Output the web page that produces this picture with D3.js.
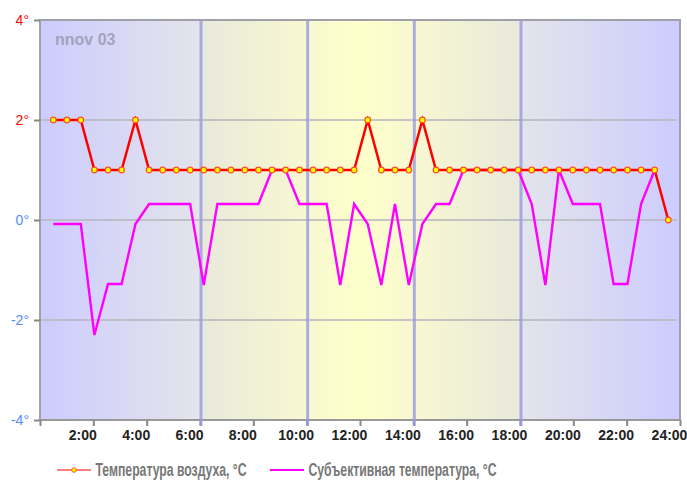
<!DOCTYPE html>
<html><head><meta charset="utf-8">
<script src="https://cdn.jsdelivr.net/npm/d3@7"></script>
<style>html,body{margin:0;padding:0;background:#fff;}svg{display:block;}</style>
</head><body>
<svg id="c" width="687" height="487"></svg>
<script>
// ---- data ----
const times = [0.5,1.01,1.53,2.04,2.55,3.06,3.58,4.09,4.6,5.11,5.63,6.14,6.65,7.16,7.68,8.19,8.7,9.21,9.73,10.24,10.75,11.26,11.78,12.29,12.8,13.31,13.83,14.34,14.85,15.36,15.88,16.39,16.9,17.41,17.93,18.44,18.95,19.46,19.98,20.49,21.0,21.51,22.03,22.54,23.05,23.56];
const airTemp = [2,2,2,1,1,1,2,1,1,1,1,1,1,1,1,1,1,1,1,1,1,1,1,2,1,1,1,2,1,1,1,1,1,1,1,1,1,1,1,1,1,1,1,1,1,0];
const feelsTemp = [-0.08,-0.08,-0.08,-2.3,-1.28,-1.28,-0.08,0.32,0.32,0.32,0.32,-1.3,0.32,0.32,0.32,0.32,1,1,0.32,0.32,0.32,-1.3,0.32,-0.08,-1.3,0.32,-1.3,-0.08,0.32,0.32,1,1,1,1,1,0.32,-1.3,1,0.32,0.32,0.32,-1.28,-1.28,0.32,1,null];
const xTicks = [0,2,4,6,8,10,12,14,16,18,20,22,24];
const xTickLabels = ["","2:00","4:00","6:00","8:00","10:00","12:00","14:00","16:00","18:00","20:00","22:00","24:00"];
const yTicks = [-4,-2,0,2,4];
const yTickLabels = ["-4°","-2°","0°","2°","4°"];
const periodLines = [6,10,14,18];
const title = "nnov 03";
const seriesNames = ["Температура воздуха, °C","Субъективная температура, °C"];

// ---- layout ----
const L=40, R=680, T=20, B=420;
const svg = d3.select("#c");
const x = d3.scaleLinear().domain([0,24]).range([L,R]);
const y = d3.scaleLinear().domain([-4,4]).range([B,T]);

// background gradient
const defs = svg.append("defs");
const g = defs.append("linearGradient").attr("id","bg").attr("x1","0").attr("x2","1").attr("y1","0").attr("y2","0");
[[0,"#ccccff"],[0.2495,"#e4e4eb"],[0.2505,"#e9e9dc"],[0.5,"#ffffcc"],[0.7495,"#e9e9dc"],[0.7505,"#e4e4eb"],[1,"#ccccff"]]
 .forEach(([o,c])=>g.append("stop").attr("offset",o).attr("stop-color",c));
svg.append("rect").attr("x",L).attr("y",T).attr("width",R-L).attr("height",B-T).attr("fill","url(#bg)");

// grid lines
svg.append("g").selectAll("line").data(yTicks.filter(d=>d>-4&&d<4)).join("line")
  .attr("x1",L).attr("x2",R-3).attr("y1",d=>y(d)).attr("y2",d=>y(d))
  .attr("stroke","#b8b8c0").attr("stroke-width",2).attr("opacity",0.8);

// frame
svg.append("path").attr("d",`M${L},${B}V${T}H${R}V${B}`).attr("fill","none").attr("stroke","#a0a0a8").attr("stroke-width",2);

// y axis
const yAxis = svg.append("g").attr("transform",`translate(${L},0)`)
  .call(d3.axisLeft(y).tickValues(yTicks).tickSize(6).tickFormat((d,i)=>yTickLabels[i]));
yAxis.select(".domain").remove();
yAxis.selectAll(".tick line").attr("stroke","#888").attr("stroke-width",2);
yAxis.selectAll(".tick text").attr("font-family","Liberation Sans, Arial, sans-serif").attr("font-size",14)
  .attr("x",-11).attr("fill",d=>d>0?"#ff0000":"#5588ff");

// x axis
const xAxis = svg.append("g").attr("transform",`translate(0,${B})`)
  .call(d3.axisBottom(x).tickValues(xTicks).tickSize(6).tickFormat((d,i)=>xTickLabels[i]));
xAxis.select(".domain").attr("stroke","#999").attr("stroke-width",2).attr("d",`M${L},0H${R}`);
xAxis.selectAll(".tick line").attr("stroke","#888").attr("stroke-width",2);
xAxis.selectAll(".tick text").attr("font-family","Liberation Sans, Arial, sans-serif").attr("font-size",14)
  .attr("font-weight","bold").attr("fill","#222").attr("dx",-11).attr("y",10);

// period lines
svg.append("g").selectAll("line").data(periodLines).join("line")
  .attr("x1",d=>x(d)+1).attr("x2",d=>x(d)+1).attr("y1",T).attr("y2",B+6)
  .attr("stroke","#9a9ae0").attr("stroke-width",3).attr("opacity",0.8);

// title
svg.append("text").attr("x",55).attr("y",45).text(title)
  .attr("font-family","Liberation Sans, Arial, sans-serif").attr("font-size",16).attr("font-weight","bold")
  .attr("fill","#8a8a9a").attr("opacity",0.65);

// series
const feelsData = times.map((t,i)=>({t,v:feelsTemp[i]}));
const airData = times.map((t,i)=>({t,v:airTemp[i]}));
const line = d3.line().defined(d=>d.v!=null).x(d=>x(d.t)).y(d=>y(d.v));
svg.append("path").datum(feelsData).attr("d",line).attr("fill","none").attr("stroke","#ff00ff").attr("stroke-width",2.4);
svg.append("path").datum(airData).attr("d",line).attr("fill","none").attr("stroke","#ff0000").attr("stroke-width",2.5);
svg.append("g").selectAll("circle").data(airData).join("circle")
  .attr("cx",d=>x(d.t)).attr("cy",d=>y(d.v)).attr("r",2.8)
  .attr("fill","#ffff00").attr("stroke","#ff5020").attr("stroke-width",1.2);

// legend
const lg = svg.append("g").attr("font-family","Liberation Sans Narrow, Arial Narrow, Liberation Sans, sans-serif")
  .attr("font-size",17.5).attr("font-weight","bold").attr("fill","#777");
lg.append("line").attr("x1",57).attr("x2",91).attr("y1",470).attr("y2",470).attr("stroke","#ff7f7f").attr("stroke-width",2);
lg.append("circle").attr("cx",74).attr("cy",470).attr("r",2.3).attr("fill","#ffff00").attr("stroke","#ff5020").attr("stroke-width",1);
lg.append("text").attr("x",95.5).attr("y",476).text(seriesNames[0]).attr("textLength",151).attr("lengthAdjust","spacingAndGlyphs");
lg.append("line").attr("x1",270).attr("x2",304).attr("y1",470).attr("y2",470).attr("stroke","#ff00ff").attr("stroke-width",2);
lg.append("text").attr("x",308.5).attr("y",476).text(seriesNames[1]).attr("textLength",188).attr("lengthAdjust","spacingAndGlyphs");
</script>
</body></html>
